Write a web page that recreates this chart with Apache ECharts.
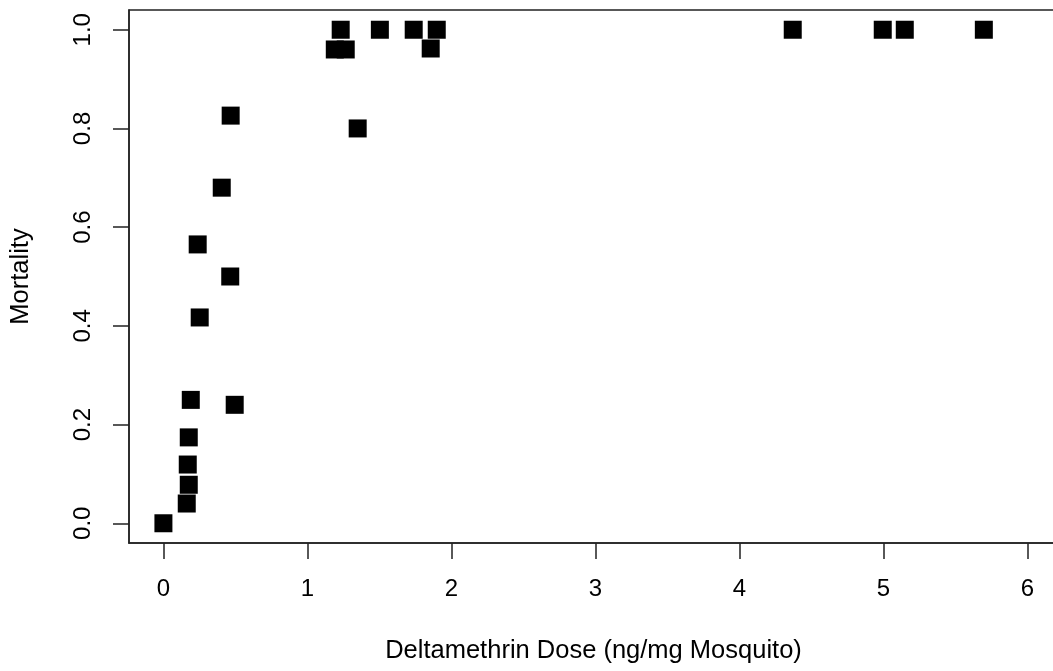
<!DOCTYPE html>
<html>
<head>
<meta charset="utf-8">
<script src="https://cdn.jsdelivr.net/npm/echarts@6/dist/echarts.min.js"></script>
<style>
html,body{margin:0;padding:0;background:#fff;}
#chart{width:1053px;height:671px;}
</style>
</head>
<body>
<div id="chart"></div>
<script>
// Data
const dose = [1.231, 1.503, 1.738, 1.898, 4.37, 4.995, 5.148, 5.697,
              1.19, 1.266, 1.856,
              0.467, 1.349, 0.405, 0.238, 0.464, 0.252, 0.19, 0.495,
              0.176, 0.169, 0.176, 0.162, 0.0];
const mortality = [1.0, 1.0, 1.0, 1.0, 1.0, 1.0, 1.0, 1.0,
                   0.96, 0.96, 0.962,
                   0.826, 0.80, 0.68, 0.565, 0.50, 0.417, 0.25, 0.24,
                   0.174, 0.119, 0.078, 0.04, 0.0];
const xTicks = [0, 1, 2, 3, 4, 5, 6];
const yTicks = [0, 0.2, 0.4, 0.6, 0.8, 1.0];
const xTitle = 'Deltamethrin Dose (ng/mg Mosquito)';
const yTitle = 'Mortality';

const points = dose.map((d, i) => [d, mortality[i]]);
const font = 'Liberation Sans, Arial, Helvetica, sans-serif';

const chart = echarts.init(document.getElementById('chart'));
chart.setOption({
  animation: false,
  backgroundColor: '#ffffff',
  grid: {
    left: 129, top: 10, width: 929, height: 533,
    outerBoundsMode: 'none', containLabel: false,
    show: true, borderColor: '#222', borderWidth: 1.5, backgroundColor: 'transparent'
  },
  xAxis: {
    type: 'value',
    min: -0.239, max: 6.212,
    name: xTitle, nameLocation: 'middle', nameGap: 95,
    nameTextStyle: {fontFamily: font, fontSize: 25.5, color: '#000'},
    splitLine: {show: false},
    axisLine: {show: true, onZero: false, lineStyle: {color: '#222', width: 1.5}},
    axisTick: {show: true, inside: false, length: 16, customValues: xTicks, lineStyle: {color: '#222', width: 1.5}},
    axisLabel: {customValues: xTicks, margin: 34, fontFamily: font, fontSize: 24, color: '#000',
      formatter: v => String(Math.round(v))}
  },
  yAxis: {
    type: 'value',
    min: -0.04, max: 1.04,
    name: yTitle, nameLocation: 'middle', nameGap: 95, nameRotate: 90,
    nameTextStyle: {fontFamily: font, fontSize: 25.5, color: '#000'},
    splitLine: {show: false},
    axisLine: {show: true, onZero: false, lineStyle: {color: '#222', width: 1.5}},
    axisTick: {show: true, inside: false, length: 16, customValues: yTicks, lineStyle: {color: '#222', width: 1.5}},
    axisLabel: {customValues: yTicks, rotate: 90, margin: 34, fontFamily: font, fontSize: 24, color: '#000',
      formatter: v => v.toFixed(1)}
  },
  series: [{
    type: 'scatter',
    symbol: 'rect',
    symbolSize: 18,
    itemStyle: {color: '#000', opacity: 1},
    data: points
  }]
});
</script>
</body>
</html>
